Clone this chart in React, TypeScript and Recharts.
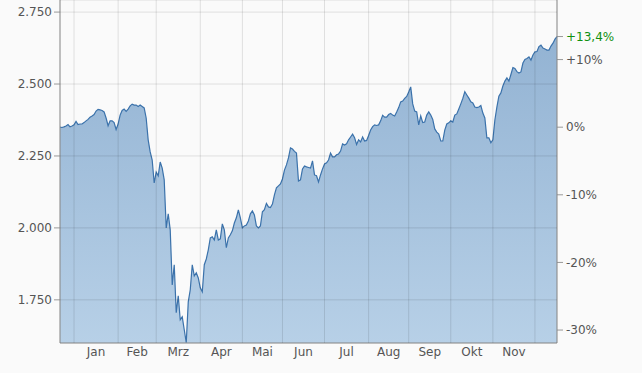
import {
  Area,
  AreaChart,
  CartesianGrid,
  XAxis,
  YAxis,
} from "recharts";

// daily closes, mid Dec 2019 to mid Dec 2020
const closeValues = [
  2350, 2349, 2351, 2354, 2359, 2351, 2354, 2358, 2370, 2359,
  2361, 2361, 2366, 2372, 2377, 2385, 2389, 2394, 2406, 2412,
  2410, 2408, 2403, 2382, 2355, 2372, 2372, 2366, 2342, 2361,
  2392, 2408, 2413, 2405, 2413, 2424, 2430, 2427, 2427, 2422,
  2427, 2422, 2417, 2382, 2306, 2264, 2236, 2156, 2194, 2181,
  2229, 2208, 2167, 2000, 2049, 1993, 1802, 1872, 1705, 1764,
  1681, 1691, 1646, 1601, 1743, 1785, 1872, 1833, 1844, 1826,
  1792, 1778, 1872, 1892, 1924, 1965, 1969, 1958, 1993, 1958,
  1962, 2014, 1993, 1931, 1965, 1976, 1990, 2017, 2035, 2063,
  2035, 2000, 2007, 2010, 2024, 2049, 2059, 2045, 2007, 2000,
  2007, 2056, 2063, 2085, 2073, 2071, 2083, 2115, 2139, 2146,
  2153, 2170, 2201, 2219, 2243, 2278, 2274, 2266, 2260, 2163,
  2167, 2205, 2215, 2212, 2210, 2208, 2233, 2184, 2181, 2160,
  2184, 2205, 2222, 2226, 2236, 2260, 2247, 2247, 2254, 2257,
  2267, 2292, 2288, 2292, 2306, 2316, 2326, 2313, 2290, 2306,
  2299, 2316, 2302, 2304, 2321, 2340, 2352, 2358, 2356, 2358,
  2372, 2391, 2385, 2385, 2394, 2398, 2392, 2389, 2403, 2418,
  2438, 2441, 2450, 2457, 2472, 2490, 2431, 2406, 2403, 2358,
  2389, 2366, 2368, 2392, 2403, 2392, 2377, 2344, 2333, 2326,
  2302, 2302, 2340, 2361, 2365, 2372, 2368, 2392, 2396, 2413,
  2431, 2450, 2473, 2462, 2451, 2438, 2434, 2420, 2418, 2420,
  2425, 2399, 2382, 2313, 2313, 2296, 2306, 2375, 2420, 2458,
  2469, 2493, 2510, 2521, 2510, 2533, 2557, 2554, 2543, 2538,
  2542, 2573, 2585, 2589, 2594, 2583, 2601, 2612, 2613, 2630,
  2635, 2625, 2622, 2618, 2618, 2632, 2642, 2656, 2665,
];

const months = ["Jan", "Feb", "Mrz", "Apr", "Mai", "Jun", "Jul", "Aug", "Sep", "Okt", "Nov"];
// index of the first trading day of each month (grid lines)
const monthStarts = [7, 29, 48, 70, 91, 111, 132, 154, 174, 195, 216, 237];
// month label positions (middle of each month)
const monthMids = [18, 38.5, 59, 80.5, 101, 121.5, 143, 164, 184.5, 205.5, 226.5];

const priceTicks = [1750, 2000, 2250, 2500, 2750];
const pctTicks = [-30, -20, -10, 0, 10];

const yMin = 1600;
const yMax = 2792;

const base = closeValues[0];
const lastPct = (closeValues[closeValues.length - 1] / base - 1) * 100;

const data = closeValues.map((v, i) => ({ i, v }));

const textColor = "#555";
const axisColor = "#999";
const fontFamily = "'DejaVu Sans', Verdana, sans-serif";

const formatPrice = (value: number) => {
  const s = String(Math.round(value));
  return s.length > 3 ? s.slice(0, -3) + "." + s.slice(-3) : s;
};

const formatPct = (p: number) => {
  const isLast = Math.abs(p - lastPct) < 1e-6;
  const txt = isLast ? p.toFixed(1).replace(".", ",") : String(Math.round(p));
  return p > 0 ? "+" + txt + "%" : txt + "%";
};

const PctTick = (props: any) => {
  const { x, y, payload } = props;
  const isLast = Math.abs(payload.value - lastPct) < 1e-6;
  return (
    <text
      x={x}
      y={y}
      dy="0.355em"
      textAnchor="start"
      fontSize={12}
      fontFamily={fontFamily}
      fill={isLast ? "#109010" : textColor}
    >
      {formatPct(payload.value)}
    </text>
  );
};

export default function App() {
  return (
    <div
      style={{
        position: "absolute",
        left: 0,
        top: 0,
        width: 642,
        height: 373,
        background: "#fafafa",
      }}
    >
      <AreaChart
        width={642}
        height={373}
        data={data}
        margin={{ top: 0, right: 0, bottom: 0, left: 0 }}
      >
        <defs>
          <linearGradient id="areaFill" x1="0" y1="0" x2="0" y2="1">
            <stop offset="0%" stopColor="#93b3d3" />
            <stop offset="100%" stopColor="#b7d0e7" />
          </linearGradient>
        </defs>

        <XAxis
          xAxisId="grid"
          dataKey="i"
          type="number"
          domain={[0, closeValues.length - 1]}
          ticks={monthStarts}
          hide
        />
        <XAxis
          dataKey="i"
          type="number"
          domain={[0, closeValues.length - 1]}
          ticks={monthMids}
          interval={0}
          height={30}
          tickLine={false}
          tickSize={0}
          tickMargin={4}
          axisLine={{ stroke: axisColor }}
          tickFormatter={(_v: number, idx: number) => months[idx]}
          tick={{ fill: textColor, fontSize: 12, fontFamily }}
        />
        <YAxis
          type="number"
          domain={[yMin, yMax]}
          ticks={priceTicks}
          allowDataOverflow
          width={60}
          tickSize={6}
          tickMargin={2}
          axisLine={{ stroke: axisColor }}
          tickLine={{ stroke: axisColor }}
          tickFormatter={formatPrice}
          tick={{ fill: textColor, fontSize: 12, fontFamily }}
        />
        <YAxis
          yAxisId="pct"
          orientation="right"
          type="number"
          domain={[(yMin / base - 1) * 100, (yMax / base - 1) * 100]}
          ticks={[...pctTicks, lastPct]}
          interval={0}
          allowDataOverflow
          width={85}
          tickSize={6}
          tickMargin={3}
          axisLine={{ stroke: axisColor }}
          tickLine={{ stroke: axisColor }}
          tick={<PctTick />}
        />

        <Area
          type="linear"
          dataKey="v"
          stroke="#3b72ab"
          strokeWidth={1.2}
          fill="url(#areaFill)"
          fillOpacity={1}
          dot={false}
          activeDot={false}
          isAnimationActive={false}
        />

        <CartesianGrid
          xAxisId="grid"
          stroke="rgba(0,0,0,0.11)"
          zIndex={500}
        />
      </AreaChart>
    </div>
  );
}
